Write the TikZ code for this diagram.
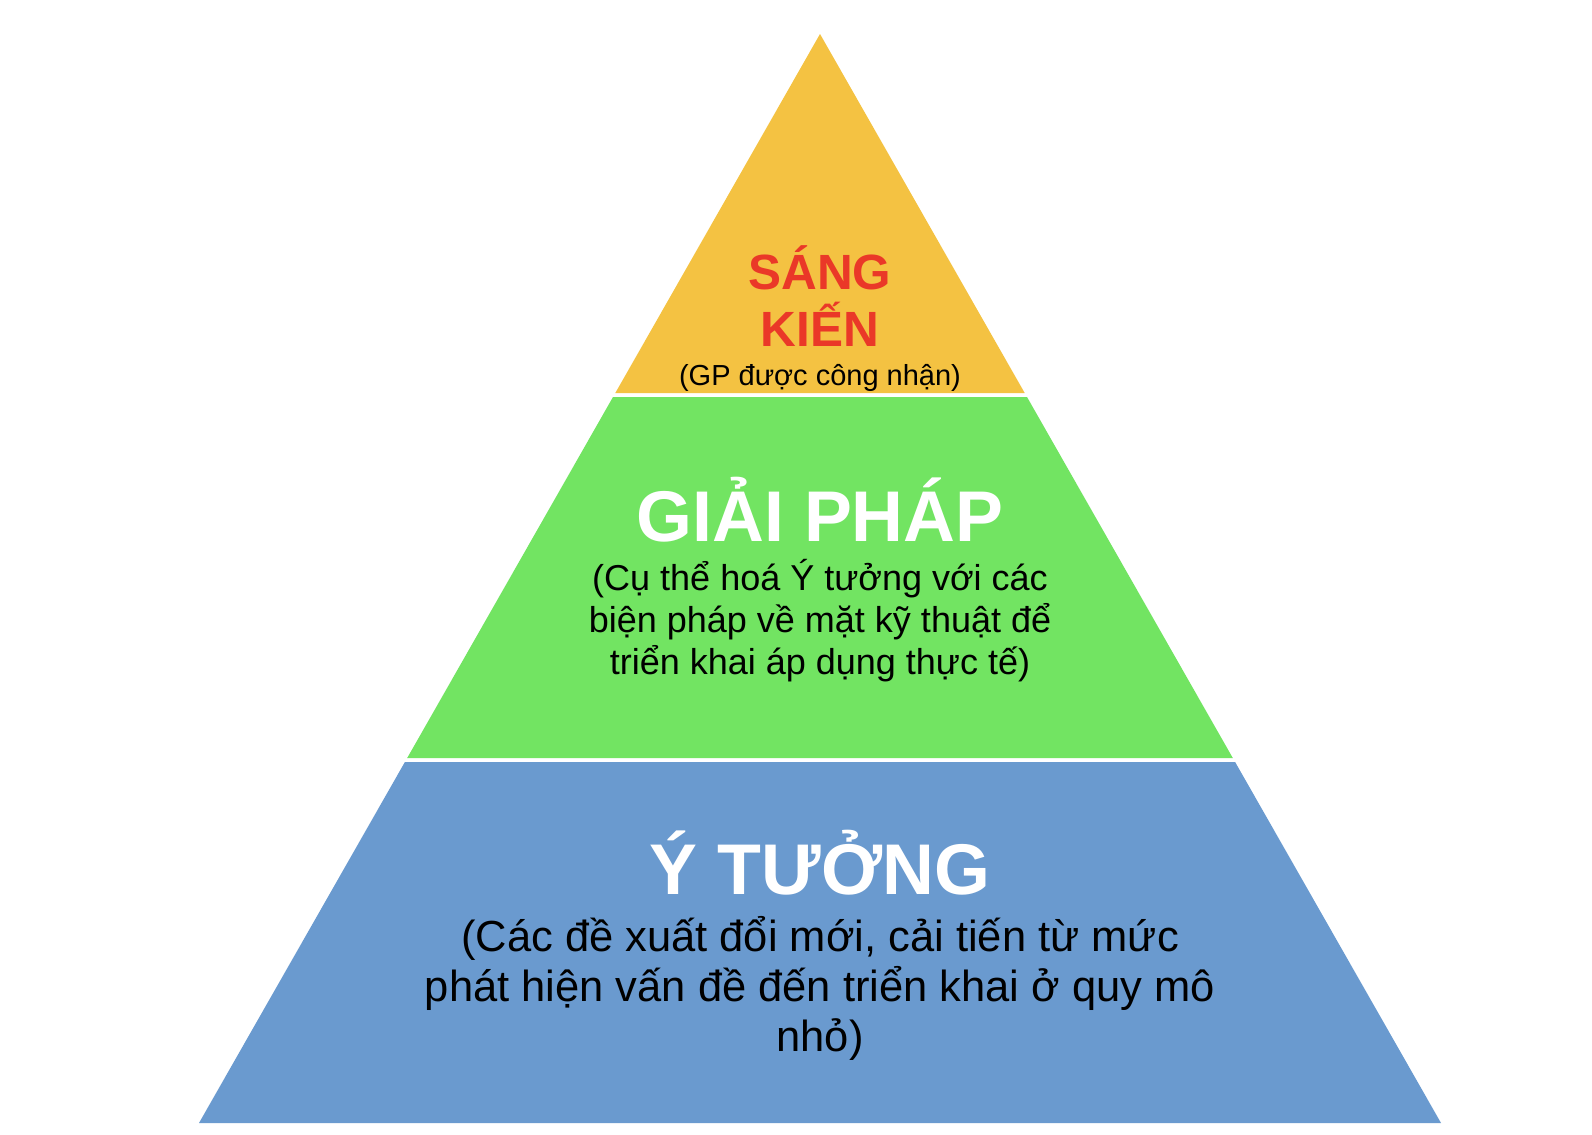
\documentclass[tikz,border=0pt]{standalone}
\usepackage{fontspec}
\setmainfont{Liberation Sans}
\definecolor{tipY}{RGB}{244,194,66}
\definecolor{midG}{RGB}{114,228,98}
\definecolor{baseB}{RGB}{106,154,207}
\definecolor{titleR}{RGB}{234,56,40}
\tikzset{
  layer/.style={draw=none},
  lbl/.style={anchor=base,inner sep=0pt,outer sep=0pt},
  bigtitle/.style={lbl,text=white,font=\fontsize{71.8bp}{80bp}\selectfont\bfseries},
  redtitle/.style={lbl,text=titleR,font=\fontsize{49.5bp}{57bp}\selectfont\bfseries},
  smallnote/.style={lbl,text=black,font=\fontsize{29bp}{33bp}\selectfont},
  greennote/.style={lbl,text=black,font=\fontsize{36bp}{41bp}\selectfont},
  bluenote/.style={lbl,text=black,font=\fontsize{43.5bp}{50bp}\selectfont}
}
\begin{document}
\begin{tikzpicture}[x=1bp,y=-1bp]
\useasboundingbox[fill=white] (0,0) rectangle (1592,1134);
% layers
\fill[layer,tipY] (820,34) -- (1024.7,393) -- (615.3,393) -- cycle;
\fill[layer,midG] (613.0,397) -- (1027.0,397) -- (1232.8,758) -- (407.2,758) -- cycle;
\fill[layer,baseB] (404.9,762) -- (1235.1,762) -- (1441,1123) -- (199,1123) -- cycle;
% top
\node[redtitle] (sang) at (820,289) {SÁNG};
\node[redtitle] (kien) at (820,346) {KIẾN};
\node[smallnote] (gp) at (820,385) {(GP được công nhận)};
% middle
\node[bigtitle] (giaiphap) at (820,541) {GIẢI PHÁP};
\node[greennote] (g1) at (820,590) {(Cụ thể hoá Ý tưởng với các};
\node[greennote] (g2) at (820,632) {biện pháp về mặt kỹ thuật để};
\node[greennote] (g3) at (820,674) {triển khai áp dụng thực tế)};
% bottom
\node[bigtitle] (ytuong) at (820,894) {Ý TƯỞNG};
\node[bluenote] (b1) at (820,951) {(Các đề xuất đổi mới, cải tiến từ mức};
\node[bluenote] (b2) at (820,1001) {phát hiện vấn đề đến triển khai ở quy mô};
\node[bluenote] (b3) at (820,1051) {nhỏ)};
\end{tikzpicture}
\end{document}
